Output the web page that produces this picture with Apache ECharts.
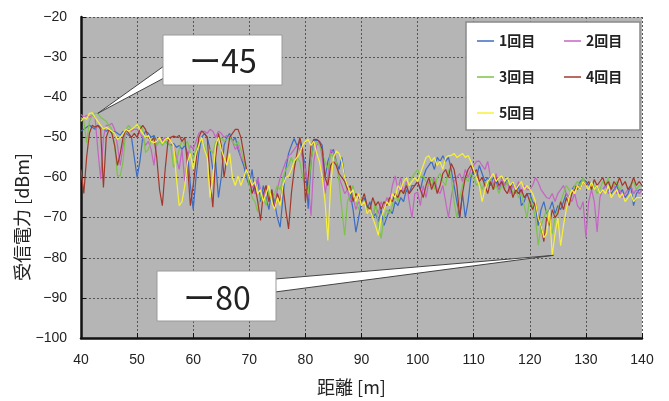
<!DOCTYPE html>
<html>
<head>
<meta charset="utf-8">
<script src="https://cdn.jsdelivr.net/npm/echarts@6/dist/echarts.min.js"></script>
<style>
html, body {margin: 0; background: #fff;}
#main {width: 669px; height: 401px;}
</style>
</head>
<body>
<div id="main"></div>
<script>
// 距離は 40m から 0.5m 刻み
var distStart = 40, distStep = 0.5;

var seriesNames = ['1回目', '2回目', '3回目', '4回目', '5回目'];
var seriesColors = ['#3d6cc3', '#c565c3', '#7cc349', '#a2382c', '#f6f03a'];

var run1 = [
    -48.4, -48, -47.5, -47, -47.5, -48, -47, -47.5, -48, -48.5,
    -48, -49, -48.5, -49, -49.5, -48.5, -49, -49.5, -50, -55,
    -60, -56, -50, -48.5, -49, -50, -49.5, -51, -50, -50.5,
    -51, -51.5, -52, -51.5, -52.5, -52, -53, -52, -54, -62,
    -68, -60, -54, -50, -49, -50, -53, -58, -56, -65,
    -60, -52, -50, -49, -51, -50, -53, -55, -57, -60,
    -62, -58, -64, -60, -66, -62, -65, -68, -63, -66,
    -70, -72.4, -65, -58, -54, -52, -50.3, -52, -51, -54,
    -57, -67.8, -56, -51, -50.5, -51, -52, -60, -56, -54,
    -53, -56, -58, -55, -60, -62, -64, -68, -73.6, -70,
    -66, -65, -68, -66, -70, -69, -71, -68, -72, -70,
    -68, -69, -66, -67, -65, -66, -63, -64, -62, -62,
    -61, -63, -60, -58, -57, -56, -58, -55, -56, -54.6,
    -56, -55, -58, -62, -66, -70, -64, -70, -66, -60,
    -58, -60, -57, -59, -61, -60, -62, -60, -61, -63,
    -61, -62, -60, -63, -61, -64, -62, -67, -66, -64,
    -64, -66, -67, -72, -68, -66, -69, -68, -66, -69,
    -67, -68, -66, -64, -65, -63, -62, -63, -61, -60.4,
    -61, -62, -61, -63, -62, -64, -63, -62, -63, -64,
    -63, -62, -64, -63, -65, -64, -62, -67, -64, -63,
    -63
];
var run2 = [
    -44.3, -45, -44.5, -45, -44.5, -45, -53, -60.4, -50, -47,
    -47, -46.5, -48, -52, -57, -52, -48.4, -48, -48.5, -48,
    -48, -49, -50, -52, -51, -53, -57, -51, -50, -51,
    -50, -50.5, -51, -52, -55, -58, -53, -61, -55, -52,
    -53, -51, -49, -48.5, -48.5, -49, -48, -48.5, -50, -48.5,
    -49, -50, -49.5, -50, -51, -53, -52, -55, -56, -58,
    -60, -62, -64, -60, -63, -66, -62, -66, -64, -67,
    -63, -60, -58, -56, -54.6, -54, -53, -52, -53, -55,
    -58, -62, -69.5, -56, -52, -51, -55, -64, -60, -53,
    -54, -56, -60, -62, -64, -63, -66, -65, -68, -66,
    -67, -66, -69, -68, -70, -67, -69, -66, -68, -65,
    -66, -62, -59.6, -63, -60, -64, -61, -66, -70, -64,
    -63.7, -67, -62, -65, -61, -62, -60, -63, -64, -62,
    -66, -70, -65, -61, -60, -59, -61, -58, -60, -58,
    -57, -56, -55.9, -57, -58, -56, -60, -62, -59, -63,
    -60, -62, -61, -64, -62, -63, -61, -64, -62, -63,
    -63, -62, -60, -61.2, -63, -64, -65, -65.3, -64, -66,
    -64, -63, -62, -64, -65, -66, -64, -67, -68, -66,
    -75, -66, -63, -66, -73.6, -65, -63, -62, -64, -63,
    -62, -64, -63, -65, -64, -63, -62, -64, -63, -64,
    -63
];
var run3 = [
    -45, -46, -51.3, -46, -44.5, -44, -44, -45, -45.5, -46,
    -47, -48, -52, -59.6, -59.6, -56, -48, -47, -48, -47.5,
    -47, -47, -48, -53.8, -53, -51, -50, -52, -51, -52,
    -51, -51.5, -52, -57.5, -56, -53, -50.5, -52, -51, -54,
    -55.4, -53, -51, -50.5, -52, -55, -53, -54, -51, -52,
    -50, -51, -50.5, -50, -51, -52, -51, -53, -56, -58,
    -62, -65, -66, -68.6, -64, -65, -67, -63, -66, -64,
    -62, -63, -60, -58, -57, -55, -57, -55, -56, -60,
    -62, -64, -56, -52, -51, -52, -54, -56, -58, -54,
    -55, -56, -61, -68, -74.4, -66, -64, -62, -66, -68,
    -65, -66, -68, -67, -70, -66, -72, -75.2, -70, -68,
    -69, -67, -64, -66, -63, -64, -62, -61, -60, -59,
    -58, -60, -59.6, -61, -62, -60, -63, -60, -59, -61,
    -62, -58, -60, -66, -70, -65, -62, -60, -61, -59,
    -60, -62, -61, -63, -61, -62, -60, -63, -62, -64,
    -62, -63, -61, -62, -64, -63, -65, -64, -67, -70,
    -65, -67, -70, -76.9, -72, -70, -68, -72, -74, -70,
    -68, -66, -64, -62, -63, -64, -62, -61, -62, -60,
    -62, -61, -63, -62, -64, -63, -61, -62, -60, -63,
    -62, -61, -63, -62, -61, -63, -62, -61, -63, -62,
    -62
];
var run4 = [
    -58, -64, -55, -49, -47, -47.5, -47, -48, -62.5, -50,
    -48, -49, -52, -57, -54, -50, -48, -49, -50, -49,
    -50, -48, -47, -48, -50, -51, -50, -55, -63, -67,
    -58, -51, -50, -49.7, -50, -49.5, -51, -50, -57, -67,
    -62, -56, -50, -48.4, -49, -50, -60, -67.4, -55, -49,
    -52, -60, -55, -50, -49, -48, -48, -50, -54, -58,
    -60, -64, -62, -66, -70.7, -64, -62, -66, -63, -68,
    -64, -66, -62, -68, -72.8, -64, -58, -54, -50, -53,
    -66, -60, -52, -50.5, -50.5, -51, -53, -60, -62, -57,
    -56, -57, -59, -60, -61, -63, -62, -66, -64, -65,
    -66, -64, -67, -68, -65, -67, -66, -68, -66, -67,
    -65, -66, -64, -65, -63, -64, -62, -64, -63, -62,
    -61, -63, -65, -62, -60, -63, -61, -64, -62, -59,
    -58, -60, -56.5, -58, -62, -70, -64, -60, -58, -57,
    -59, -58, -61, -60, -62, -64, -61, -63, -60, -62,
    -61, -63, -64, -62, -65, -63, -64, -63, -65, -64,
    -66, -68, -66, -70, -72, -76, -70, -72, -68, -70,
    -69, -66, -68, -65, -67, -64, -63, -62, -63, -61,
    -62, -61, -63, -60.5, -62, -61, -60, -62, -61, -63,
    -61, -62, -60, -62, -61, -63, -62, -60, -62, -61,
    -62
];
var run5 = [
    -46, -45, -45.5, -44, -43.9, -45, -46, -47, -48, -47.5,
    -48, -48.5, -49, -50.5, -50, -49, -48, -48.5, -48, -47.5,
    -46.8, -48, -49, -50, -49.5, -51, -51.3, -51, -50, -51.5,
    -50.5, -50, -51, -52, -60, -67, -66, -62, -56, -54,
    -58, -54, -52, -50, -53, -55, -65, -60, -52, -50,
    -53, -55, -57, -54, -60, -62, -59.6, -62, -60, -58,
    -60, -62, -61, -64, -63, -66, -64, -62, -66, -68,
    -65, -67, -62, -60, -59.6, -58, -56, -55, -54, -52,
    -51, -50.5, -52, -51, -54, -56, -60, -66, -75.7, -62,
    -55, -53.4, -54, -56, -60, -62, -64, -63, -66, -64,
    -67, -66, -69, -68, -70, -72, -74.4, -70, -68, -66,
    -67, -64, -65, -62, -63, -61, -60, -62, -61, -60,
    -61, -59, -57, -55, -54.6, -56, -55, -57, -56, -58,
    -55, -54.6, -54.5, -54, -55, -54.5, -54, -55, -54.5, -56,
    -58, -60, -62, -66, -63, -61, -60, -59, -61, -60,
    -59.6, -61, -60, -62, -61, -63, -62, -61, -63, -62,
    -62.9, -64, -66, -70, -72, -75, -74, -68, -79.4, -74,
    -70, -77, -72, -68, -65, -63, -64, -62, -63, -61,
    -62, -63, -61, -63, -62, -64, -63, -64, -62, -65,
    -64, -63, -65, -64, -66, -65, -64, -66, -65, -65,
    -65
];
var runs = [run1, run2, run3, run4, run5];

// 吹き出し
var calloutText = ['ー45', 'ー80'];
var calloutAt = [[43, -44], [124.2, -79.4]];

var legendPos = [[477, 34], [564, 34], [477, 70], [564, 70], [477, 106]];

function minusFmt(v) {
    return String(v).replace('-', '−');
}

var chart = echarts.init(document.getElementById('main'));

var series = runs.map(function (vals, i) {
    return {
        name: seriesNames[i],
        type: 'line',
        showSymbol: false,
        symbol: 'none',
        data: vals.map(function (v, k) {
            return [distStart + k * distStep, v];
        }),
        lineStyle: {color: seriesColors[i], width: 1.2},
        itemStyle: {color: seriesColors[i]}
    };
});

var legends = seriesNames.map(function (n, i) {
    return {
        data: [{name: n, icon: 'rect'}],
        left: legendPos[i][0],
        top: legendPos[i][1],
        padding: 0,
        itemWidth: 17,
        itemHeight: 1.5,
        textStyle: {fontSize: 14, fontWeight: 'bold', color: '#222', fontFamily: 'Noto Sans CJK JP'}
    };
});

var option = {
    animation: false,
    backgroundColor: '#fff',
    grid: {
        left: 81, right: 27, top: 17, bottom: 61,
        show: true, backgroundColor: '#b5b5b5', borderWidth: 0
    },
    legend: legends,
    xAxis: {
        type: 'value', min: 40, max: 140, interval: 10,
        name: '距離 [m]', nameLocation: 'middle', nameGap: 40,
        nameTextStyle: {fontSize: 18, color: '#222', fontFamily: 'Noto Sans CJK JP', padding: [0, 20, 0, 0]},
        axisLine: {onZero: false, lineStyle: {color: '#111', width: 2.5}},
        axisTick: {inside: true, length: 5, lineStyle: {color: '#111'}},
        axisLabel: {fontSize: 14, color: '#222', margin: 15, fontFamily: 'Liberation Sans'},
        splitLine: {show: true, lineStyle: {color: '#555', type: [2, 2], width: 1}}
    },
    yAxis: {
        type: 'value', min: -100, max: -20, interval: 10,
        axisLine: {show: true, onZero: false, lineStyle: {color: '#111', width: 2.5}},
        axisTick: {show: true, inside: true, length: 5, lineStyle: {color: '#111'}},
        axisLabel: {fontSize: 14, color: '#222', margin: 14, fontFamily: 'Liberation Sans', formatter: minusFmt},
        splitLine: {show: true, lineStyle: {color: '#555', type: [2, 2], width: 1}}
    },
    series: series
};

chart.setOption(option);

var tip1 = chart.convertToPixel({gridIndex: 0}, calloutAt[0]);
var tip2 = chart.convertToPixel({gridIndex: 0}, calloutAt[1]);

var boxStyle = {fill: '#fff', stroke: '#9a9a9a', lineWidth: 1};
var wedgeStyle = {fill: '#fff', stroke: '#444', lineWidth: 1};
var calloutFont = {fontSize: 32, fontFamily: 'Noto Sans CJK JP', fill: '#222'};

chart.setOption({
    graphic: [
        // 凡例の枠
        {type: 'rect', z: 3, shape: {x: 466, y: 22, width: 174, height: 108}, style: {fill: '#fff', stroke: '#8a8a8a', lineWidth: 1.5}},
        // ー45
        {type: 'polygon', z: 50, shape: {points: [tip1, [164, 66], [164, 78]]}, style: wedgeStyle},
        {type: 'rect', z: 51, shape: {x: 163, y: 35, width: 119, height: 50}, style: boxStyle},
        {type: 'text', z: 52, x: 223, y: 61, style: Object.assign({text: calloutText[0], align: 'center', verticalAlign: 'middle'}, calloutFont)},
        // ー80
        {type: 'polygon', z: 50, shape: {points: [tip2, [275, 279], [275, 292]]}, style: wedgeStyle},
        {type: 'rect', z: 51, shape: {x: 157, y: 271, width: 119, height: 50}, style: boxStyle},
        {type: 'text', z: 52, x: 217, y: 298, style: Object.assign({text: calloutText[1], align: 'center', verticalAlign: 'middle'}, calloutFont)},
        // 縦軸タイトル
        {type: 'text', z: 5, x: 22, y: 217, rotation: Math.PI / 2,
            style: {text: '受信電力 [dBm]', align: 'center', verticalAlign: 'middle', fontSize: 18, fontFamily: 'Noto Sans CJK JP', fill: '#222'}}
    ]
});
</script>
</body>
</html>
